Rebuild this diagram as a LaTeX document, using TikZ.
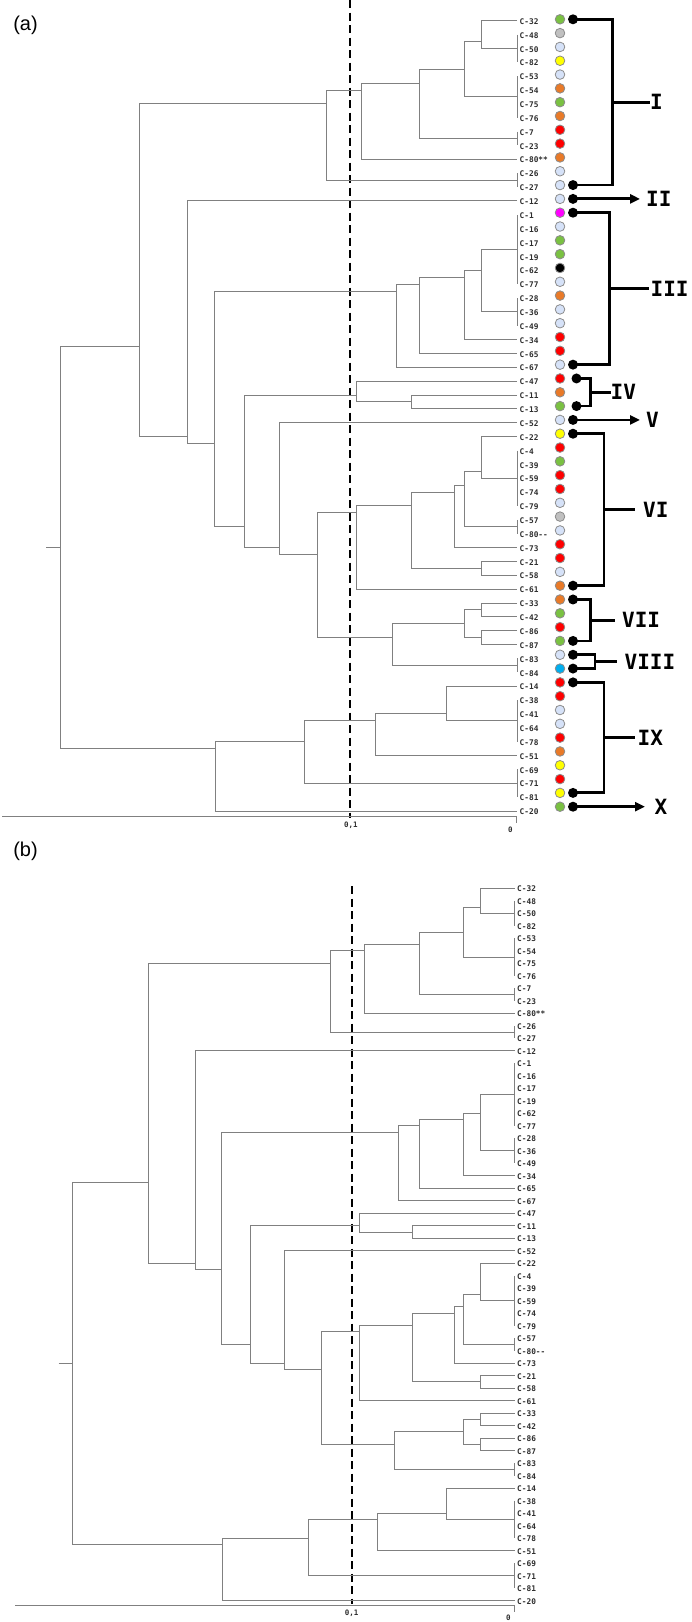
\documentclass[tikz,border=0pt]{standalone}
\usepackage{fontspec}
\setmainfont{Liberation Sans}
\newfontfamily\monofont{DejaVu Sans Mono}
\usetikzlibrary{arrows.meta}
\definecolor{treegray}{RGB}{128,128,128}
\definecolor{dotgreen}{RGB}{122,193,66}
\definecolor{dotgray}{RGB}{192,192,192}
\definecolor{dotblue}{RGB}{214,226,248}
\definecolor{dotyellow}{RGB}{255,255,0}
\definecolor{dotorange}{RGB}{233,122,40}
\definecolor{dotred}{RGB}{255,0,0}
\definecolor{dotmag}{RGB}{255,0,255}
\definecolor{dotblack}{RGB}{0,0,0}
\definecolor{dotcyan}{RGB}{0,174,239}
\definecolor{dotedge}{RGB}{140,140,140}
\definecolor{labelgray}{RGB}{45,45,45}
\tikzset{
  treeline/.style={draw=treegray, line width=1pt},
  leaflabel/.style={anchor=west, inner sep=0pt, font=\monofont\bfseries\fontsize{7.8}{8}\selectfont, text=labelgray},
  axislabel/.style={inner sep=0pt, font=\monofont\bfseries\fontsize{7.5}{8}\selectfont, text=labelgray},
  dotnode/.style={circle, draw=dotedge, line width=0.8pt, minimum size=9.6pt, inner sep=0pt},
  bulletnode/.style={circle, fill=black, minimum size=10pt, inner sep=0pt},
  bracket/.style={line width=2.8pt, draw=black},
  numeral/.style={anchor=west, inner sep=0pt, font=\monofont\bfseries\fontsize{21}{21}\selectfont},
  cutline/.style={draw=black, line width=1.6pt, dash pattern=on 8pt off 4.5pt},
  panellabel/.style={inner sep=0pt, font=\fontsize{20}{20}\selectfont}
}
\newcommand\TJ[2]{\draw[treeline] (517,{ly(#1)}) -- (517,{ly(#2)});}
\newcommand\JN[5]{\draw[treeline] (#3,{ly(#2)}) -- (#1,{ly(#2)}) -- (#1,{ly(#4)}) -- (#5,{ly(#4)});}
\newcommand\drawtree[1]{%
  \TJ{2}{4}\TJ{5}{8}\TJ{9}{10}\TJ{12}{13}\TJ{15}{20}\TJ{21}{23}%
  \TJ{32}{36}\TJ{37}{38}\TJ{47}{48}\TJ{50}{53}\TJ{55}{57}%
  \JN{481.7}{1}{517}{3}{517}
  \JN{464}{2.5}{481.7}{6.5}{517}
  \JN{419.3}{4.5}{464}{9.5}{517}
  \JN{361.9}{5.5}{419.3}{11}{517}
  \JN{326.6}{6}{361.9}{12.5}{517}
  \JN{139}{7}{326.6}{31}{187.6}
  \JN{187.6}{14}{517}{31.5}{214.9}
  \JN{214.9}{20.5}{396.9}{37.5}{244.9}
  \JN{481.7}{17.5}{517}{22}{517}
  \JN{464}{19}{481.7}{24}{517}
  \JN{419.3}{19.5}{464}{25}{517}
  \JN{396.9}{20}{419.3}{26}{517}
  \JN{244.9}{28}{356.6}{39}{279.3}
  \JN{356.6}{27}{517}{28.5}{411.3}
  \JN{411.3}{28}{517}{29}{517}
  \JN{279.3}{30}{517}{39.5}{317.7}
  \JN{317.7}{36.5}{356.6}{45.5}{392.9}
  \JN{481.7}{31}{517}{34}{517}
  \JN{464}{33.5}{481.7}{37.5}{517}
  \JN{454.7}{34.5}{464}{39}{517}
  \JN{481.7}{40}{517}{41}{517}
  \JN{411.3}{35}{454.7}{40.5}{481.7}
  \JN{356.6}{36}{411.3}{42}{517}
  \JN{481.7}{43}{517}{44}{517}
  \JN{481.7}{45}{517}{46}{517}
  \JN{464}{43.5}{481.7}{45.5}{481.7}
  \JN{392.9}{44.5}{464}{47.5}{517}
  \JN{446.6}{49}{517}{51.5}{517}
  \JN{375.1}{51}{446.6}{54}{517}
  \JN{304.5}{51.5}{375.1}{56}{517}
  \JN{215.4}{53}{304.5}{58}{517}
  \JN{60.9}{24.5}{139}{53.5}{215.4}
  \draw[treeline] (46.3,{ly(39)}) -- (60.9,{ly(39)});
  \foreach \i/\lab in {1/C-32,2/C-48,3/C-50,4/C-82,5/C-53,6/C-54,7/C-75,8/C-76,9/C-7,10/C-23,
    11/C-80**,12/C-26,13/C-27,14/C-12,15/C-1,16/C-16,17/C-17,18/C-19,19/C-62,20/C-77,
    21/C-28,22/C-36,23/C-49,24/C-34,25/C-65,26/C-67,27/C-47,28/C-11,29/C-13,30/C-52,
    31/C-22,32/C-4,33/C-39,34/C-59,35/C-74,36/C-79,37/C-57,38/C-80-{}-,39/C-73,40/C-21,
    41/C-58,42/C-61,43/C-33,44/C-42,45/C-86,46/C-87,47/C-83,48/C-84,49/C-14,50/C-38,
    51/C-41,52/C-64,53/C-78,54/C-51,55/C-69,56/C-71,57/C-81,58/C-20}
    {\node[leaflabel] (#1lab\i) at (519.5,{ly(\i)+0.8}) {\lab};}
}
\begin{document}
\begin{tikzpicture}[x=1pt, y=-1pt,
  declare function={ly(\k)=20.7+13.865*(\k-1); dy(\k)=19.3+13.814*(\k-1);}]
\useasboundingbox (0,0) rectangle (692,1622);
% ---------- panel (a)
\node[panellabel] (pa) at (25.5,25) {(a)};
\draw[cutline] (350,0) -- (350,818);
\drawtree{a}
\draw[treeline] (2,816.5) -- (516.8,816.5) -- (516.8,823);
\node[axislabel] (ax1) at (350.8,825.5) {0,1};
\node[axislabel] (ax0) at (510.5,830) {0};
% dots
\foreach \i/\c in {1/dotgreen,2/dotgray,3/dotblue,4/dotyellow,5/dotblue,6/dotorange,7/dotgreen,8/dotorange,9/dotred,10/dotred,
  11/dotorange,12/dotblue,13/dotblue,14/dotblue,15/dotmag,16/dotblue,17/dotgreen,18/dotgreen,19/dotblack,20/dotblue,
  21/dotorange,22/dotblue,23/dotblue,24/dotred,25/dotred,26/dotblue,27/dotred,28/dotorange,29/dotgreen,30/dotblue,
  31/dotyellow,32/dotred,33/dotgreen,34/dotred,35/dotred,36/dotblue,37/dotgray,38/dotblue,39/dotred,40/dotred,
  41/dotblue,42/dotorange,43/dotorange,44/dotgreen,45/dotred,46/dotgreen,47/dotblue,48/dotcyan,49/dotred,50/dotred,
  51/dotblue,52/dotblue,53/dotred,54/dotorange,55/dotyellow,56/dotred,57/dotyellow,58/dotgreen}
  {\node[dotnode, fill=\c] (dot\i) at (560,{dy(\i)}) {};}
% bullets
\foreach \i in {1,13,14,15,26,30,31,42,43,46,47,48,49,57,58}
  {\node[bulletnode] (bul\i) at (573,{dy(\i)}) {};}
\foreach \i in {27,29}
  {\node[bulletnode] (bul\i) at (576.5,{dy(\i)}) {};}
% group numerals
\node[numeral] (nI)    at (650,{dy(7)}) {I};
\node[numeral] (nII)   at (646,{dy(14)}) {II};
\node[numeral] (nIII)  at (650.5,{dy(20.5)}) {III};
\node[numeral] (nIV)   at (610.5,{dy(28)}) {IV};
\node[numeral] (nV)    at (646,{dy(30)}) {V};
\node[numeral] (nVI)   at (643,{dy(36.5)}) {VI};
\node[numeral] (nVII)  at (622,{dy(44.5)}) {VII};
\node[numeral] (nVIII) at (624.5,{dy(47.5)}) {VIII};
\node[numeral] (nIX)   at (637.5,{dy(53)}) {IX};
\node[numeral] (nX)    at (654.5,{dy(58)}) {X};
% brackets
\draw[bracket] (bul1.center) -| (612.3,{dy(13)}) -- (bul13.center);
\draw[bracket] (612.3,{dy(7)}) -- (650,{dy(7)});
\draw[bracket, -{Triangle[length=10pt,width=9pt]}] (bul14.center) -- (640,{dy(14)});
\draw[bracket] (bul15.center) -| (609.5,{dy(26)}) -- (bul26.center);
\draw[bracket] (609.5,{dy(20.5)}) -- (648.5,{dy(20.5)});
\draw[bracket] (bul27.center) -| (590.7,{dy(29)}) -- (bul29.center);
\draw[bracket] (590.7,{dy(28)}) -- (611,{dy(28)});
\draw[bracket, -{Triangle[length=10pt,width=9pt]}] (bul30.center) -- (640,{dy(30)});
\draw[bracket] (bul31.center) -| (604,{dy(42)}) -- (bul42.center);
\draw[bracket] (604,{dy(36.5)}) -- (635,{dy(36.5)});
\draw[bracket] (bul43.center) -| (590.7,{dy(46)}) -- (bul46.center);
\draw[bracket] (590.7,{dy(44.5)}) -- (615,{dy(44.5)});
\draw[bracket] (bul47.center) -| (595,{dy(48)}) -- (bul48.center);
\draw[bracket] (595,{dy(47.5)}) -- (616.7,{dy(47.5)});
\draw[bracket] (bul49.center) -| (604,{dy(57)}) -- (bul57.center);
\draw[bracket] (604,{dy(53)}) -- (635,{dy(53)});
\draw[bracket, -{Triangle[length=10pt,width=9pt]}] (bul58.center) -- (645,{dy(58)});
% ---------- panel (b)
\node[panellabel] (pb) at (25.5,851) {(b)};
\draw[cutline] (351.7,886) -- (351.7,1604);
\begin{scope}[shift={(13.7,869.64)}, xscale=0.9688, yscale=0.9014]
\drawtree{b}
\end{scope}
\draw[treeline] (15.4,1605.7) -- (514.1,1605.7) -- (514.1,1611.8);
\node[axislabel] (bx1) at (351.7,1613.5) {0,1};
\node[axislabel] (bx0) at (508.4,1618) {0};
\end{tikzpicture}
\end{document}
